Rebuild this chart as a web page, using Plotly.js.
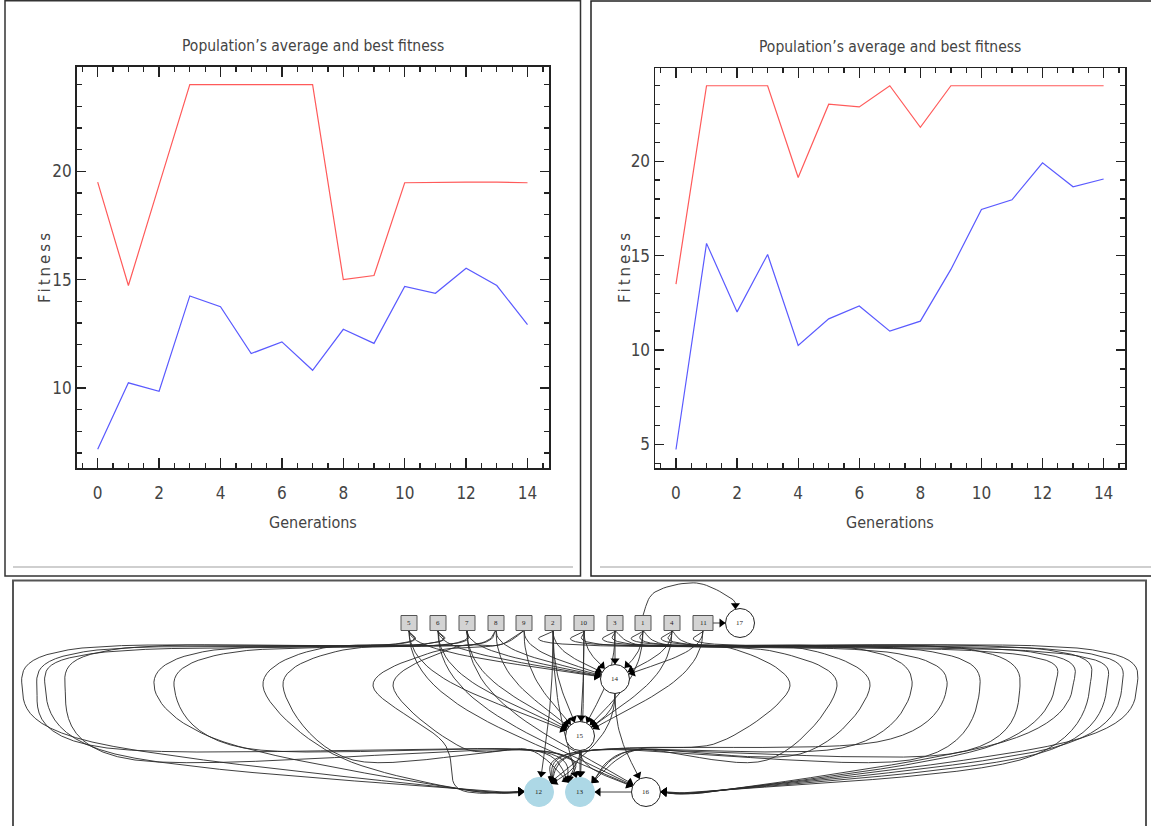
<!DOCTYPE html>
<html><head><meta charset="utf-8">
<script src="https://cdn.plot.ly/plotly-3.0.1.min.js"></script>
<style>html,body{margin:0;padding:0;background:#fff}#chart{width:1151px;height:826px}</style>
</head><body><div id="chart"></div>
<script>
// ---------- data: fitness charts ----------
const generations = [0,1,2,3,4,5,6,7,8,9,10,11,12,13,14];
const leftBest  = [19.5,14.73,19.37,24,24,24,24,24,15.0,15.19,19.47,19.5,19.5,19.5,19.47];
const leftAvg   = [7.17,10.24,9.85,14.25,13.75,11.59,12.13,10.82,12.71,12.06,14.69,14.37,15.53,14.73,12.92];
const rightBest = [13.49,24,24,24,19.14,23.02,22.88,24,21.8,24,24,24,24,24,24];
const rightAvg  = [4.73,15.65,12.02,15.06,10.24,11.65,12.33,11.0,11.53,14.27,17.45,17.96,19.92,18.65,19.06];
const xTickVals = [0,2,4,6,8,10,12,14];
const chartTitle = "Population\u2019s average and best fitness";
const xTitle = "Generations";
const yTitle = "Fitness";

// ---------- data: network graph ----------
const inputNodes  = ['5','6','7','8','9','2','10','3','1','4','11'];
const hiddenNodes = ['17','14','15','16'];
const outputNodes = ['12','13'];
const edgesDirect = [
  ['5','14'],['6','14'],['7','14'],['8','14'],['9','14'],['2','14'],['10','14'],['3','14'],['1','14'],['4','14'],['11','14'],
  ['5','15'],['6','15'],['7','15'],['8','15'],['9','15'],['2','15'],['10','15'],['3','15'],['1','15'],['4','15'],['11','15'],
  ['14','15'],['14','12'],['14','16'],['15','12'],['15','13'],['15','16'],['16','13'],['11','17'],
  ['2','12'],['2','13'],['10','13'],['5','16'],['6','16'],['7','16']
];
const edgesLoopLeft  = [['5','12'],['5','13'],['6','12'],['6','13'],['7','12'],['7','13'],['8','12'],['8','13'],['9','12'],['9','13']];
const edgesLoopRight = [['11','16'],['4','16'],['1','16'],['3','16'],['10','16'],['2','16'],['4','12'],['1','12'],['3','12'],['10','12'],['4','13'],['1','13'],['3','13']];
const edgesOver = [['1','17']];

// ---------- layout of the graph (pixel positions, drawing only) ----------
const nodePos = {
  '5':[409,623],'6':[438,623],'7':[467,623],'8':[496,623],'9':[524,623],'2':[553,623],
  '10':[584,623],'3':[615,623],'1':[643,623],'4':[672,623],'11':[703,623],'17':[740,623],
  '14':[615,679],'15':[580,736],'12':[539,792],'13':[580,792],'16':[646,792]
};
const loopLeftX  = [22,37,45,65,154,174,263,283,373,393];
const loopRightX = [1137,1122,1107,1090,1073,1055,1020,980,947,912,870,837,790];
const R = 14.5, SQH = 7.5;

// ---------- helpers ----------
const W = 1151, H = 826;
const px = x => x / W, py = y => 1 - y / H;

function bez(p0,p1,p2,p3,n){
  const o=[];
  for(let i=0;i<=n;i++){const t=i/n,u=1-t;
    o.push([u*u*u*p0[0]+3*u*u*t*p1[0]+3*u*t*t*p2[0]+t*t*t*p3[0],
            u*u*u*p0[1]+3*u*u*t*p1[1]+3*u*t*t*p2[1]+t*t*t*p3[1]]);}
  return o;
}
function catmull(pts,n){
  const o=[];
  for(let i=0;i<pts.length-1;i++){
    const p0=pts[Math.max(i-1,0)],p1=pts[i],p2=pts[i+1],p3=pts[Math.min(i+2,pts.length-1)];
    for(let s=0;s<n;s++){const t=s/n,t2=t*t,t3=t2*t;const q=[0,1].map(k=>0.5*((2*p1[k])+(-p0[k]+p2[k])*t+(2*p0[k]-5*p1[k]+4*p2[k]-p3[k])*t2+(-p0[k]+3*p1[k]-3*p2[k]+p3[k])*t3));o.push(q);}
  }
  o.push(pts[pts.length-1]);
  return o;
}
const isSquare = id => inputNodes.includes(id);
function boundary(id, toward){
  const c=nodePos[id];const dx=toward[0]-c[0],dy=toward[1]-c[1];const d=Math.hypot(dx,dy)||1;
  return [c[0]+R*dx/d, c[1]+R*dy/d];
}

const ex=[],ey=[],ax=[],ay=[],aang=[];
function addCurve(pts){
  pts.forEach(p=>{ex.push(p[0]);ey.push(p[1]);});
  ex.push(null);ey.push(null);
  const a=pts[pts.length-1],b=pts[Math.max(0,pts.length-3)];
  const dx=a[0]-b[0],dy=a[1]-b[1],d=Math.hypot(dx,dy)||1;
  ax.push(a[0]-4*dx/d); ay.push(a[1]-4*dy/d);
  aang.push(Math.atan2(dx,-dy)*180/Math.PI);
}

edgesDirect.forEach(([s,t])=>{
  const S=nodePos[s],T=nodePos[t];
  if(Math.abs(S[1]-T[1])<1){ // same row: straight
    const dir=Math.sign(T[0]-S[0]);
    const x0=S[0]+dir*(isSquare(s)?10:R), x1=T[0]-dir*R;
    addCurve([[x0,S[1]],[x1,T[1]]]); return;
  }
  const start=[S[0],S[1]+(isSquare(s)?SQH:R)];
  const k=0.45*(T[1]-start[1]);
  const c1=[start[0],start[1]+k], c2=[T[0]+(S[0]-T[0])*0.55,T[1]-k*0.8];
  const end=boundary(t,c2);
  addCurve(bez(start,c1,c2,end,24));
});
edgesLoopLeft.forEach(([s,t],i)=>{
  const S=nodePos[s],T=nodePos[t],X=loopLeftX[i];
  const low=742+(i%4)*6;
  const pts=[[S[0],S[1]+SQH],[S[0]-25,645],[X+60,648+(i%3)*2],[X,686],[X+70,low]];
  let P5 = t==='12' ? [T[0]-80,T[1]-3] : [T[0]-50,T[1]-42];
  pts.push(P5); pts.push(boundary(t,P5));
  addCurve(catmull(pts,12));
});
edgesLoopRight.forEach(([s,t],i)=>{
  const S=nodePos[s],T=nodePos[t],X=loopRightX[i];
  const low=742+(i%4)*6;
  const pts=[[S[0],S[1]+SQH],[S[0]+25,645],[X-60,648+(i%3)*2],[X,686],[X-70,low]];
  let P5 = t==='16' ? [T[0]+80,T[1]-2] : [T[0]+55,T[1]-42];
  pts.push(P5); pts.push(boundary(t,P5));
  addCurve(catmull(pts,12));
});
edgesOver.forEach(([s,t])=>{
  const S=nodePos[s],T=nodePos[t];
  const p3=[T[0]-8,T[1]-24];
  const pts=[[S[0],S[1]-SQH],[S[0]+12,592],[(S[0]+T[0])/2+5,583],p3,boundary(t,p3)];
  addCurve(catmull(pts,12));
});

// ---------- traces ----------
const fontNarrow = "Liberation Sans Narrow, DejaVu Sans Condensed, Arial Narrow, Lato, sans-serif";
const red = 'rgb(255,90,90)', blue = 'rgb(90,90,255)';
const traces = [
  {x:generations,y:leftBest,type:'scatter',mode:'lines',line:{color:red,width:1.2},xaxis:'x',yaxis:'y',hoverinfo:'skip'},
  {x:generations,y:leftAvg,type:'scatter',mode:'lines',line:{color:blue,width:1.2},xaxis:'x',yaxis:'y',hoverinfo:'skip'},
  {x:generations,y:rightBest,type:'scatter',mode:'lines',line:{color:red,width:1.2},xaxis:'x2',yaxis:'y2',hoverinfo:'skip'},
  {x:generations,y:rightAvg,type:'scatter',mode:'lines',line:{color:blue,width:1.2},xaxis:'x2',yaxis:'y2',hoverinfo:'skip'},
  {x:ex,y:ey,type:'scatter',mode:'lines',line:{color:'#2a2a2a',width:0.9},xaxis:'x3',yaxis:'y3',hoverinfo:'skip',connectgaps:false},
  {x:ax,y:ay,type:'scatter',mode:'markers',marker:{symbol:'triangle-up',size:8,color:'#000',angle:aang,line:{width:0}},xaxis:'x3',yaxis:'y3',hoverinfo:'skip'}
];
const circleIds = hiddenNodes.concat(outputNodes);
traces.push({
  x:circleIds.map(id=>nodePos[id][0]), y:circleIds.map(id=>nodePos[id][1]),
  type:'scatter',mode:'markers',
  marker:{symbol:'circle',size:29,color:circleIds.map(id=>outputNodes.includes(id)?'#add8e6':'#fff'),
          line:{color:circleIds.map(id=>outputNodes.includes(id)?'#add8e6':'#222'),width:1}},
  xaxis:'x3',yaxis:'y3',hoverinfo:'skip'
});

// ---------- shapes ----------
const shapes = [];
inputNodes.forEach(id=>{
  const [cx,cy]=nodePos[id]; const hw = id.length>1?10:8;
  shapes.push({type:'rect',xref:'x3',yref:'y3',x0:cx-hw,x1:cx+hw,y0:cy-SQH,y1:cy+SQH,
    fillcolor:'#d3d3d3',line:{color:'#555',width:1},layer:'above'});
});
function prect(x0,y0,x1,y1,color,w){shapes.push({type:'rect',xref:'paper',yref:'paper',x0:px(x0),x1:px(x1),y0:py(y0),y1:py(y1),line:{color:color,width:w},fillcolor:'rgba(0,0,0,0)'});}
function pline(x0,y0,x1,y1,color,w){shapes.push({type:'line',xref:'paper',yref:'paper',x0:px(x0),x1:px(x1),y0:py(y0),y1:py(y1),line:{color:color,width:w}});}
prect(5,0.7,580.5,576,'#333',1.5);
prect(591,1,1152,576,'#222',1.5);
pline(13,567,573,567,'#cfcfcf',2);
pline(600,567,1151,567,'#cfcfcf',2);
prect(13,580.5,1146,830,'#555',2);

// ---------- axes ----------
function xAx(d0,d1,anchor){return {domain:[px(d0),px(d1)],range:[-0.687,14.70],anchor:anchor,
  tickvals:xTickVals,ticks:'inside',ticklen:10,tickcolor:'#222',tickwidth:1.3,
  showline:true,linecolor:'#222',linewidth:1.5,mirror:'allticks',showgrid:false,zeroline:false,
  minor:{dtick:0.5,tick0:0,ticks:'inside',ticklen:5,tickcolor:'#222',showgrid:false},
  ticklabelstandoff:9,tickfont:{family:fontNarrow,size:17,color:'#444'},fixedrange:true};}
function yAx(top,bottom,rng,anchor){return {domain:[py(bottom),py(top)],range:rng,anchor:anchor,
  dtick:5,tick0:0,ticks:'inside',ticklen:9,tickcolor:'#222',tickwidth:1.3,
  showline:true,linecolor:'#222',linewidth:1.5,mirror:'allticks',showgrid:false,zeroline:false,
  minor:{dtick:1,tick0:0,ticks:'inside',ticklen:5,tickcolor:'#222',showgrid:false},
  tickfont:{family:fontNarrow,size:17,color:'#444'},fixedrange:true};}

const annotations = [];
function ann(text,x,y,size,angle,extra){annotations.push(Object.assign({text:text,xref:'paper',yref:'paper',x:px(x),y:py(y),
  showarrow:false,xanchor:'center',yanchor:'middle',textangle:angle||0,font:{family:fontNarrow,size:size,color:'#444'}},extra||{}));}
ann(chartTitle,313,46,15.5);
ann(chartTitle,890,47,15.5);
ann(xTitle,313,522,16);
ann(xTitle,890,522,16);
ann('<span style="letter-spacing:3px">'+yTitle+'</span>',45,267,15,-90,{font:{family:'DejaVu Sans, sans-serif',size:15,color:'#444'}});
ann('<span style="letter-spacing:3px">'+yTitle+'</span>',625,267,15,-90,{font:{family:'DejaVu Sans, sans-serif',size:15,color:'#444'}});
// node labels (drawn above the node boxes)
inputNodes.concat(circleIds).forEach(id=>{
  annotations.push({text:id,xref:'x3',yref:'y3',x:nodePos[id][0],y:nodePos[id][1],showarrow:false,
    xanchor:'center',yanchor:'middle',font:{family:'Liberation Serif, DejaVu Serif, serif',size:7,color:'#222'}});
});

const layout = {
  width:W,height:H,autosize:false,margin:{l:0,r:0,t:0,b:0},
  paper_bgcolor:'#fff',plot_bgcolor:'rgba(0,0,0,0)',showlegend:false,
  xaxis:xAx(76.6,549,'y'), yaxis:yAx(66.6,468,[6.31,24.83],'x'),
  xaxis2:xAx(655,1125,'y2'), yaxis2:yAx(68,468,[3.75,24.94],'x2'),
  xaxis3:{domain:[px(13),px(1146)],range:[13,1146],anchor:'y3',visible:false,fixedrange:true},
  yaxis3:{domain:[0,py(580)],range:[826,580],anchor:'x3',visible:false,fixedrange:true},
  shapes:shapes, annotations:annotations
};
Plotly.newPlot('chart',traces,layout,{displayModeBar:false,staticPlot:true});
</script>
</body></html>
